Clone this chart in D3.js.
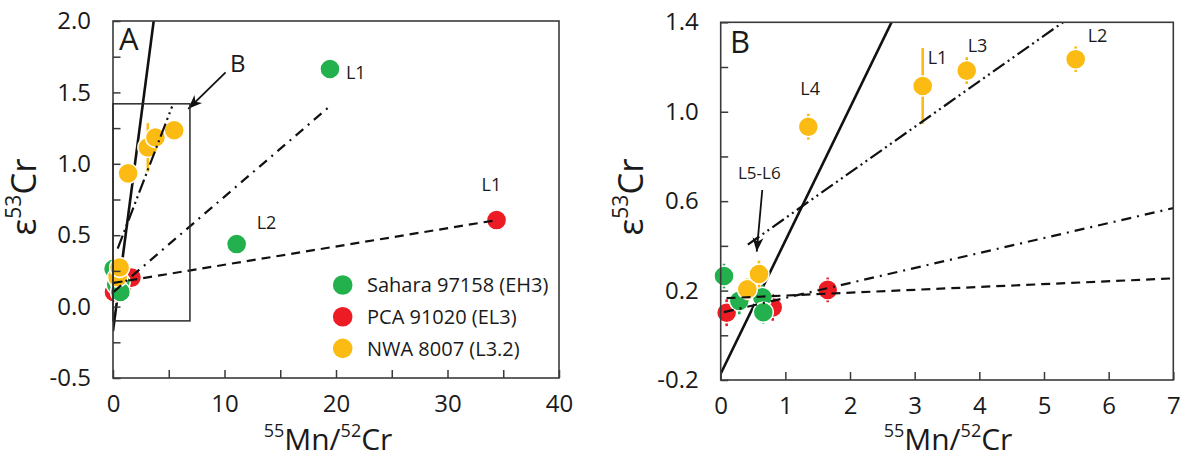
<!DOCTYPE html>
<html><head><meta charset="utf-8">
<script src="https://cdn.jsdelivr.net/npm/d3@7"></script>
<style>
body{margin:0;background:#fff}
svg text{font-family:"Open Sans",sans-serif;fill:#1a1a1a}
</style>
</head><body>
<svg id="c" width="1190" height="459"></svg>
<script>
// ---------------- DATA ----------------
const sampleNames  = ["Sahara 97158 (EH3)", "PCA 91020 (EL3)", "NWA 8007 (L3.2)"];
const sampleColors = ["#22b14c", "#ed1c24", "#fcbb13"];

// Sahara 97158 (EH3) - green
const saharaX   = [0.051, 0.288, 0.644, 0.659, 19.46, 11.09];
const saharaY   = [0.265, 0.154, 0.170, 0.103, 1.664, 0.438];
const saharaErr = [0.055, 0.060, 0.055, 0.050, 0.050, 0.050];
// PCA 91020 (EL3) - red
const pcaX   = [0.092, 0.804, 1.655, 34.4];
const pcaY   = [0.101, 0.125, 0.203, 0.606];
const pcaErr = [0.060, 0.060, 0.055, 0.050];
// NWA 8007 (L3.2) - yellow
const nwaX   = [0.412, 0.592, 1.355, 3.124, 3.805, 5.49];
const nwaY   = [0.206, 0.274, 0.933, 1.115, 1.184, 1.235];
const nwaErr = [0.050, 0.060, 0.058, 0.170, 0.060, 0.057];

// isochron-type regression lines: y = intercept + slope * x
const fitStyle     = ["solid", "dashed", "dashdot", "dashdotdot"];
const fitIntercept = [-0.172, 0.165, 0.100, 0.320];
const fitSlope     = [0.595, 0.0128, 0.067, 0.204];
const fitStartA    = [0, 0.05, 0.05, 0.42];
const fitEndA      = [3.7, 34.4, 19.3, 5.3];
const fitStartB    = [0, 0.09, 0.05, 0.42];
const fitEndB      = [7, 7, 7, 5.3];

// zoom box drawn in panel A (extent of panel B)
const insetX = [0, 6.9];
const insetY = [-0.1, 1.42];

// labels: [text, sample index, point index]
const labelsA = [["L1", 0, 4], ["L2", 0, 5], ["L1", 1, 3]];
const labelsB = [["L4", 2, 2], ["L1", 2, 3], ["L3", 2, 4], ["L2", 2, 5]];

// arrows (data coords): from -> to
const arrowAFrom = [10.1, 1.64], arrowATo = [6.75, 1.385];
const arrowBFrom = [0.643, 0.65], arrowBTo = [0.557, 0.374];

// axes
const xTicksA = [0, 5, 10, 15, 20, 25, 30, 35, 40];
const xLabelsA = ["0", "10", "20", "30", "40"];
const yTicksA = [-0.5, -0.25, 0, 0.25, 0.5, 0.75, 1, 1.25, 1.5, 1.75, 2];
const yLabelsA = ["-0.5", "0.0", "0.5", "1.0", "1.5", "2.0"];
const xTicksB = [0, 1, 2, 3, 4, 5, 6, 7];
const xLabelsB = ["0", "1", "2", "3", "4", "5", "6", "7"];
const yTicksB = [-0.2, 0, 0.2, 0.4, 0.6, 0.8, 1.0, 1.2, 1.4];
const yLabelsB = ["-0.2", "0.2", "0.6", "1.0", "1.4"];

// ---------------- DRAW ----------------
const svg = d3.select("#c");
const defs = svg.append("defs");
defs.append("marker").attr("id", "ah").attr("viewBox", "-15 -7 16 14")
  .attr("refX", 0).attr("refY", 0).attr("markerWidth", 16).attr("markerHeight", 14)
  .attr("markerUnits", "userSpaceOnUse").attr("orient", "auto")
  .append("path").attr("d", "M0,0 L-14,-5.5 L-10,0 L-14,5.5 Z").attr("fill", "#111");

const samples = [
  {c: 1, xs: pcaX, ys: pcaY, es: pcaErr},
  {c: 0, xs: saharaX, ys: saharaY, es: saharaErr},
  {c: 2, xs: nwaX, ys: nwaY, es: nwaErr}
];
function pts(s) { return s.xs.map((v, i) => ({x: v, y: s.ys[i], e: s.es[i], c: s.c})); }
function getPt(si, pi) {
  const arr = [[saharaX, saharaY], [pcaX, pcaY], [nwaX, nwaY]][si];
  return [arr[0][pi], arr[1][pi]];
}
const dashes = {solid: null, dashed: "9,6", dashdot: "10,6,2,6", dashdotdot: "14,4,2,4,2,4"};
const widths = {solid: 2.6, dashed: 2.2, dashdot: 2.2, dashdotdot: 2.2};

function panel(cfg) {
  const g = svg.append("g");
  const x = d3.scaleLinear().domain(cfg.xDomain).range([cfg.left, cfg.right]);
  const y = d3.scaleLinear().domain(cfg.yDomain).range([cfg.bottom, cfg.top]);
  defs.append("clipPath").attr("id", "clip" + cfg.id).append("rect")
    .attr("x", cfg.left).attr("y", cfg.top)
    .attr("width", cfg.right - cfg.left).attr("height", cfg.bottom - cfg.top);

  const line = d3.line().x(d => x(d[0])).y(d => y(d[1]));
  const fits = fitStyle.map((s, i) => ({s, pts: [
    [cfg.fitStart[i], fitIntercept[i] + fitSlope[i] * cfg.fitStart[i]],
    [cfg.fitEnd[i], fitIntercept[i] + fitSlope[i] * cfg.fitEnd[i]]]}));

  const drawFits = (list) => g.append("g").attr("clip-path", `url(#clip${cfg.id})`)
    .selectAll("path").data(list).join("path")
    .attr("d", d => line(d.pts)).attr("fill", "none").attr("stroke", "#111")
    .attr("stroke-width", d => widths[d.s])
    .attr("stroke-dasharray", d => dashes[d.s]);

  drawFits(fits.filter(f => f.s === "solid"));

  // points
  const inDom = d => d.x >= cfg.xDomain[0] && d.x <= cfg.xDomain[1] && d.y <= cfg.yDomain[1] && d.y >= cfg.yDomain[0];
  samples.forEach(s => {
    const data = pts(s).filter(inDom);
    const gg = g.append("g");
    gg.selectAll("line").data(data).join("line")
      .attr("x1", d => x(d.x)).attr("x2", d => x(d.x))
      .attr("y1", d => y(d.y - d.e)).attr("y2", d => y(d.y + d.e))
      .attr("stroke", sampleColors[s.c]).attr("stroke-width", 2.6);
    gg.selectAll("circle").data(data).join("circle")
      .attr("cx", d => x(d.x)).attr("cy", d => y(d.y)).attr("r", 10)
      .attr("fill", sampleColors[s.c]).attr("stroke", "#fff").attr("stroke-width", 1.4);
  });

  drawFits(fits.filter(f => f.s !== "solid"));

  // frame
  g.append("rect").attr("x", cfg.left).attr("y", cfg.top)
    .attr("width", cfg.right - cfg.left).attr("height", cfg.bottom - cfg.top)
    .attr("fill", "none").attr("stroke", "#3a3a3a").attr("stroke-width", 1.6);

  // axes
  const xa = d3.axisBottom(x).tickValues(cfg.xTicks).tickSizeInner(-8).tickSizeOuter(0)
    .tickPadding(17).tickFormat(v => { const s = String(v); return cfg.xLabels.includes(s) ? s : ""; });
  const ya = d3.axisLeft(y).tickValues(cfg.yTicks).tickSizeInner(-7.5).tickSizeOuter(0)
    .tickPadding(22).tickFormat(v => { const s = (v < 0 ? "-" : "") + Math.abs(v).toFixed(1); return cfg.yLabels.includes(s) ? s : ""; });
  [[xa, `translate(0,${cfg.bottom})`], [ya, `translate(${cfg.left},0)`]].forEach(([ax, tr]) => {
    const ag = g.append("g").attr("transform", tr).call(ax);
    ag.select(".domain").remove();
    ag.selectAll(".tick line").attr("stroke", "#3a3a3a").attr("stroke-width", 1.5);
    ag.selectAll(".tick text").attr("font-size", 24).attr("fill", "#1a1a1a")
      .style("font-family", '"Open Sans", sans-serif');
    ag.attr("font-family", null).attr("font-size", null);
  });

  // panel letter
  g.append("text").attr("x", cfg.letterPos[0]).attr("y", cfg.letterPos[1])
    .attr("font-size", 31).text(cfg.letter);

  // axis titles
  const xt = g.append("text").attr("x", cfg.xTitlePos[0]).attr("y", 450)
    .attr("text-anchor", "middle").attr("font-size", 30);
  xt.append("tspan").attr("font-size", 18).attr("dy", -13).text("55");
  xt.append("tspan").attr("dy", 13).text("Mn/");
  xt.append("tspan").attr("font-size", 18).attr("dy", -13).text("52");
  xt.append("tspan").attr("dy", 13).text("Cr");

  const yt = g.append("text").attr("transform", `translate(${cfg.yTitleX},197) rotate(-90)`)
    .attr("text-anchor", "middle").attr("font-size", 35);
  yt.append("tspan").text("ε");
  yt.append("tspan").attr("font-size", 21).attr("dy", -15).text("53");
  yt.append("tspan").attr("dy", 15).text("Cr");

  // point labels
  cfg.labels.forEach((l, i) => {
    const p = getPt(l[1], l[2]);
    g.append("text").attr("x", x(p[0]) + cfg.labelOff[i][0]).attr("y", y(p[1]) + cfg.labelOff[i][1])
      .attr("font-size", 18).text(l[0]);
  });

  // arrow annotation
  g.append("line").attr("x1", x(cfg.arrow[0][0])).attr("y1", y(cfg.arrow[0][1]))
    .attr("x2", x(cfg.arrow[1][0])).attr("y2", y(cfg.arrow[1][1]))
    .attr("stroke", "#111").attr("stroke-width", 1.8).attr("marker-end", "url(#ah)");

  return {g, x, y};
}

// Panel A
const A = panel({
  id: "A", xDomain: [0, 40], yDomain: [-0.5, 2.0],
  left: 113, right: 559, top: 21, bottom: 378,
  xTicks: xTicksA, xLabels: xLabelsA, yTicks: yTicksA, yLabels: yLabelsA,
  fitStart: fitStartA, fitEnd: fitEndA,
  letter: "A", letterPos: [119, 50], xTitlePos: [328], yTitleX: 36,
  labels: labelsA, labelOff: [[16, 10], [20, -15], [-15, -29]],
  arrow: [arrowAFrom, arrowATo]
});
// inset box
A.g.append("rect").attr("x", A.x(insetX[0])).attr("y", A.y(insetY[1]))
  .attr("width", A.x(insetX[1]) - A.x(insetX[0])).attr("height", A.y(insetY[0]) - A.y(insetY[1]))
  .attr("fill", "none").attr("stroke", "#2a2a2a").attr("stroke-width", 1.5);
A.g.append("text").attr("x", 230).attr("y", 72).attr("font-size", 24).text("B");

// legend
const leg = A.g.append("g");
sampleNames.forEach((n, i) => {
  const cy = 285 + i * 31.7;
  leg.append("circle").attr("cx", 342.7).attr("cy", cy).attr("r", 9.8).attr("fill", sampleColors[i]);
  leg.append("text").attr("x", 367).attr("y", cy + 7.3).attr("font-size", 20).text(n);
});

// Panel B
const B = panel({
  id: "B", xDomain: [0, 7], yDomain: [-0.2, 1.4],
  left: 720.7, right: 1173.3, top: 22.3, bottom: 380,
  xTicks: xTicksB, xLabels: xLabelsB, yTicks: yTicksB, yLabels: yLabelsB,
  fitStart: fitStartB, fitEnd: fitEndB,
  letter: "B", letterPos: [730, 53], xTitlePos: [948], yTitleX: 643,
  labels: labelsB, labelOff: [[-8, -32], [5, -22], [1, -19], [12, -17]],
  arrow: [arrowBFrom, arrowBTo]
});
B.g.append("text").attr("x", 738).attr("y", 179).attr("font-size", 17).text("L5-L6");
</script>
</body></html>
